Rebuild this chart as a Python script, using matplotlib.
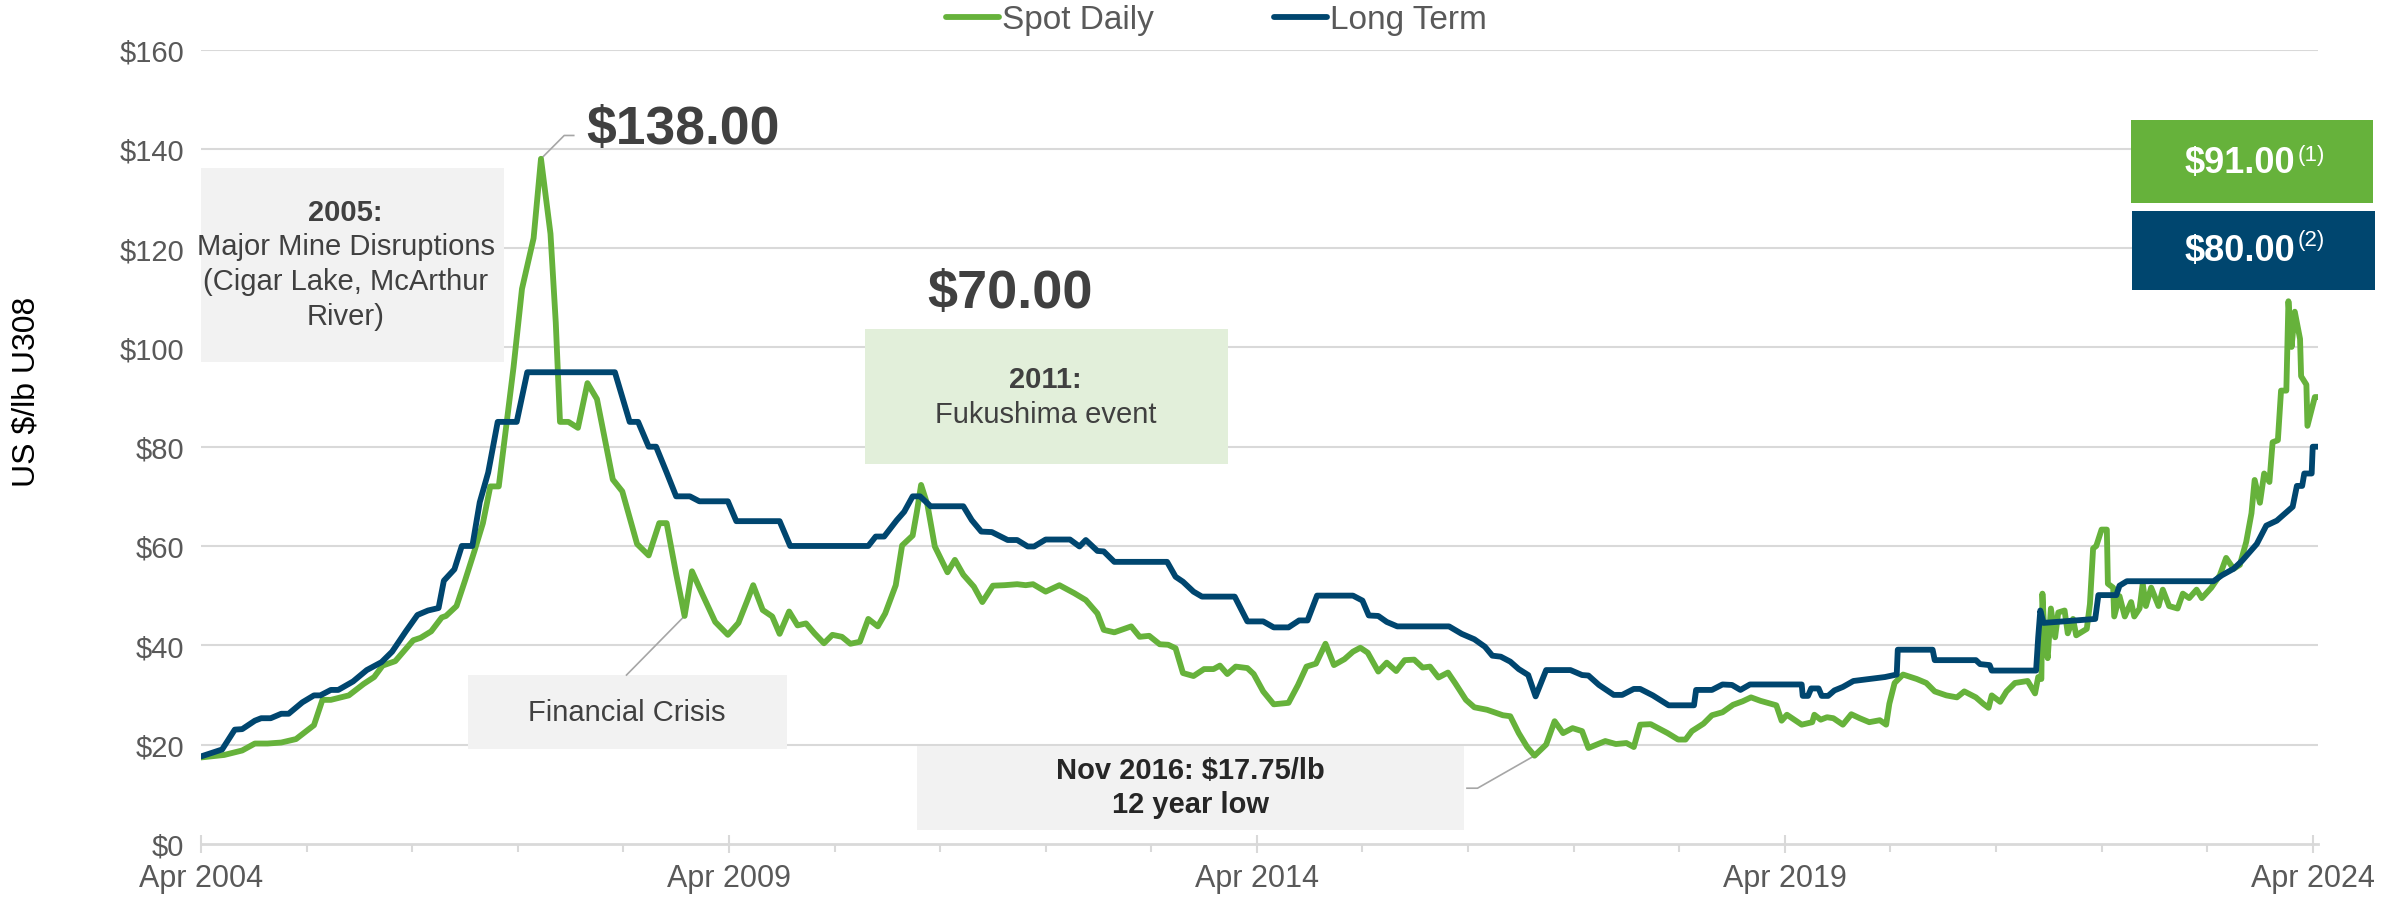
import numpy as np
import matplotlib.pyplot as plt
from matplotlib.patches import Rectangle
from matplotlib.ticker import FixedLocator, FuncFormatter

plt.rcParams['font.family'] = ['Liberation Sans', 'DejaVu Sans']

# spot daily price (decimal year, US$/lb)
spot_year = [2004.25, 2004.47, 2004.64, 2004.76, 2004.88, 2005.01, 2005.15, 2005.32, 2005.40, 2005.48,
             2005.65, 2005.79, 2005.89, 2005.97, 2006.09, 2006.26, 2006.33, 2006.43, 2006.53, 2006.57,
             2006.67, 2006.75, 2006.84, 2006.92, 2006.99, 2007.07, 2007.14, 2007.21, 2007.29, 2007.40,
             2007.47, 2007.56, 2007.61, 2007.65, 2007.73, 2007.82, 2007.91, 2008.00, 2008.15, 2008.24,
             2008.38, 2008.49, 2008.59, 2008.66, 2008.75, 2008.83, 2008.90, 2009.00, 2009.12, 2009.24,
             2009.34, 2009.42, 2009.48, 2009.57, 2009.66, 2009.73, 2009.82, 2009.90, 2009.98, 2010.06,
             2010.15, 2010.23, 2010.32, 2010.40, 2010.49, 2010.57, 2010.66, 2010.73, 2010.83, 2010.89,
             2010.99, 2011.03, 2011.07, 2011.13, 2011.20, 2011.32, 2011.39, 2011.47, 2011.57, 2011.65,
             2011.75, 2011.86, 2011.98, 2012.06, 2012.13, 2012.25, 2012.38, 2012.52, 2012.63, 2012.74,
             2012.80, 2012.90, 2013.06, 2013.14, 2013.23, 2013.33, 2013.41, 2013.48, 2013.55, 2013.65,
             2013.75, 2013.84, 2013.90, 2013.97, 2014.05, 2014.16, 2014.22, 2014.31, 2014.41, 2014.55,
             2014.64, 2014.72, 2014.81, 2014.90, 2014.98, 2015.08, 2015.16, 2015.23, 2015.30, 2015.40,
             2015.48, 2015.57, 2015.65, 2015.74, 2015.82, 2015.89, 2015.97, 2016.06, 2016.13, 2016.23,
             2016.31, 2016.43, 2016.58, 2016.65, 2016.73, 2016.81, 2016.88, 2016.99, 2017.07, 2017.15,
             2017.24, 2017.33, 2017.39, 2017.55, 2017.65, 2017.75, 2017.82, 2017.88, 2017.98, 2018.14,
             2018.24, 2018.31, 2018.37, 2018.48, 2018.56, 2018.66, 2018.76, 2018.85, 2018.93, 2019.02,
             2019.17, 2019.22, 2019.27, 2019.41, 2019.51, 2019.53, 2019.59, 2019.65, 2019.71, 2019.80,
             2019.88, 2019.96, 2020.05, 2020.15, 2020.21, 2020.24, 2020.29, 2020.37, 2020.50, 2020.59,
             2020.67, 2020.78, 2020.88, 2020.95, 2021.06, 2021.13, 2021.18, 2021.21, 2021.29, 2021.35,
             2021.43, 2021.55, 2021.62, 2021.65, 2021.68, 2021.69, 2021.71, 2021.74, 2021.77, 2021.81,
             2021.84, 2021.90, 2021.93, 2021.98, 2022.01, 2022.11, 2022.14, 2022.17, 2022.20, 2022.25,
             2022.30, 2022.31, 2022.36, 2022.37, 2022.42, 2022.47, 2022.53, 2022.56, 2022.61, 2022.64,
             2022.67, 2022.72, 2022.79, 2022.83, 2022.89, 2022.97, 2023.02, 2023.08, 2023.15, 2023.20,
             2023.29, 2023.37, 2023.43, 2023.50, 2023.56, 2023.62, 2023.67, 2023.70, 2023.75, 2023.79,
             2023.84, 2023.87, 2023.92, 2023.95, 2024.00, 2024.02, 2024.05, 2024.08, 2024.13, 2024.14,
             2024.19, 2024.20, 2024.24, 2024.27, 2024.30]
spot_price = [17.4, 17.9, 18.8, 20.2, 20.2, 20.4, 21.1, 23.9, 29.0, 29.0,
              29.9, 32.2, 33.6, 35.9, 36.8, 41.0, 41.5, 42.8, 45.6, 45.9,
              47.9, 53.0, 59.0, 64.6, 72.0, 72.0, 84.0, 96.0, 111.8, 122.0,
              138.0, 122.9, 105.0, 85.0, 85.0, 83.8, 92.8, 89.6, 73.4, 71.0,
              60.4, 58.1, 64.6, 64.6, 54.4, 45.9, 54.9, 50.2, 44.7, 42.1,
              44.5, 48.8, 52.1, 47.1, 45.8, 42.3, 46.8, 44.0, 44.4, 42.4,
              40.4, 42.1, 41.7, 40.3, 40.7, 45.3, 43.8, 46.4, 52.1, 60.1,
              62.1, 66.9, 72.3, 68.3, 59.9, 54.7, 57.2, 54.2, 51.8, 48.7,
              52.0, 52.1, 52.3, 52.1, 52.3, 50.8, 52.1, 50.5, 49.1, 46.4,
              43.1, 42.6, 43.8, 41.7, 41.9, 40.2, 40.1, 39.4, 34.4, 33.8,
              35.2, 35.2, 35.9, 34.2, 35.7, 35.4, 34.2, 30.7, 28.1, 28.4,
              32.0, 35.7, 36.3, 40.3, 36.0, 37.2, 38.7, 39.5, 38.5, 34.7,
              36.5, 34.8, 37.0, 37.1, 35.5, 35.7, 33.5, 34.5, 32.3, 29.0,
              27.5, 27.0, 25.9, 25.7, 22.3, 19.5, 17.75, 20.0, 24.7, 22.3,
              23.3, 22.7, 19.3, 20.7, 20.1, 20.3, 19.5, 24.0, 24.1, 22.3,
              21.0, 21.0, 22.7, 24.2, 25.9, 26.5, 28.0, 28.7, 29.5, 28.8,
              27.9, 24.8, 26.0, 24.0, 24.5, 26.0, 25.0, 25.5, 25.3, 24.0,
              26.1, 25.3, 24.5, 24.9, 24.0, 28.2, 32.4, 34.1, 33.2, 32.4,
              30.7, 29.9, 29.5, 30.7, 29.5, 28.2, 27.4, 29.9, 28.6, 30.7,
              32.4, 32.8, 30.3, 33.6, 33.2, 50.4, 41.6, 37.4, 47.4, 41.6,
              46.6, 47.0, 42.4, 45.3, 42.0, 43.3, 48.3, 59.5, 60.0, 63.3,
              63.3, 52.4, 51.6, 45.8, 49.9, 45.8, 48.7, 45.8, 47.4, 52.4,
              47.9, 51.6, 47.9, 51.2, 47.9, 47.4, 50.4, 49.5, 51.2, 49.5,
              51.6, 54.1, 57.6, 55.4, 56.2, 60.8, 66.6, 73.3, 68.7, 74.6,
              72.9, 80.9, 81.3, 91.3, 91.3, 109.3, 100.1, 107.2, 101.7, 94.2,
              92.5, 84.2, 87.5, 90.0, 90.0]

# long term price (decimal year, US$/lb)
lt_year = [2004.25, 2004.45, 2004.57, 2004.64, 2004.76, 2004.82, 2004.91, 2005.01, 2005.08, 2005.21,
           2005.32, 2005.38, 2005.48, 2005.55, 2005.69, 2005.82, 2005.96, 2006.06, 2006.19, 2006.30,
           2006.40, 2006.50, 2006.55, 2006.65, 2006.72, 2006.82, 2006.89, 2006.97, 2007.06, 2007.24,
           2007.34, 2008.17, 2008.31, 2008.39, 2008.49, 2008.56, 2008.66, 2008.75, 2008.88, 2008.97,
           2009.24, 2009.32, 2009.73, 2009.83, 2010.57, 2010.64, 2010.72, 2010.84, 2010.91, 2010.99,
           2011.06, 2011.16, 2011.47, 2011.55, 2011.64, 2011.74, 2011.89, 2011.98, 2012.08, 2012.14,
           2012.25, 2012.48, 2012.57, 2012.63, 2012.74, 2012.80, 2012.90, 2013.40, 2013.48, 2013.55,
           2013.65, 2013.73, 2014.04, 2014.16, 2014.31, 2014.41, 2014.55, 2014.65, 2014.73, 2014.82,
           2015.16, 2015.25, 2015.31, 2015.40, 2015.48, 2015.58, 2016.07, 2016.19, 2016.31, 2016.41,
           2016.48, 2016.56, 2016.65, 2016.73, 2016.82, 2016.89, 2016.99, 2017.22, 2017.33, 2017.39,
           2017.49, 2017.63, 2017.71, 2017.82, 2017.88, 2018.00, 2018.15, 2018.39, 2018.41, 2018.56,
           2018.66, 2018.75, 2018.83, 2018.92, 2019.41, 2019.42, 2019.47, 2019.50, 2019.57, 2019.60,
           2019.66, 2019.72, 2019.80, 2019.90, 2020.20, 2020.31, 2020.32, 2020.65, 2020.67, 2021.06,
           2021.10, 2021.19, 2021.21, 2021.63, 2021.65, 2021.67, 2021.70, 2022.19, 2022.22, 2022.39,
           2022.42, 2022.49, 2023.31, 2023.39, 2023.50, 2023.58, 2023.65, 2023.72, 2023.81, 2023.91,
           2023.99, 2024.06, 2024.10, 2024.15, 2024.17, 2024.24, 2024.25, 2024.30]
lt_price = [17.6, 19.0, 23.0, 23.1, 24.8, 25.3, 25.3, 26.2, 26.2, 28.5,
            29.9, 29.9, 31.0, 31.0, 32.7, 35.0, 36.6, 38.7, 42.8, 46.1,
            47.0, 47.5, 53.0, 55.3, 60.0, 60.0, 68.8, 74.8, 85.0, 85.0,
            95.0, 95.0, 85.0, 85.0, 80.0, 80.0, 74.8, 70.0, 70.0, 69.0,
            69.0, 65.0, 65.0, 60.0, 60.0, 61.9, 61.9, 65.2, 66.9, 70.0,
            70.0, 68.0, 68.0, 65.2, 62.9, 62.8, 61.2, 61.2, 59.9, 59.9,
            61.3, 61.3, 59.9, 61.2, 59.0, 58.9, 56.8, 56.8, 53.8, 52.8,
            50.8, 49.8, 49.8, 44.8, 44.8, 43.6, 43.6, 45.0, 45.0, 50.0,
            50.0, 49.0, 46.0, 45.9, 44.7, 43.8, 43.8, 42.3, 41.2, 39.7,
            37.9, 37.7, 36.7, 35.2, 34.0, 29.7, 35.0, 35.0, 34.0, 33.9,
            32.0, 30.0, 30.0, 31.2, 31.2, 29.9, 27.9, 27.9, 31.0, 31.0,
            32.1, 32.0, 31.0, 32.1, 32.1, 29.8, 29.8, 31.3, 31.3, 29.8,
            29.8, 30.9, 31.6, 32.8, 33.6, 34.1, 39.1, 39.1, 37.0, 37.0,
            36.2, 36.0, 34.9, 34.9, 41.6, 47.0, 44.5, 45.3, 50.1, 50.1,
            52.0, 52.9, 52.9, 54.1, 55.4, 57.0, 58.7, 60.4, 64.1, 65.1,
            66.6, 67.9, 72.1, 72.1, 74.6, 74.6, 80.0, 80.0]

tick_years = [2004, 2009, 2014, 2019, 2024]
y_ticks = [0, 20, 40, 60, 80, 100, 120, 140, 160]

green = '#66B23B'
blue = '#00466F'
dark = '#404040'
grey_txt = '#595959'
grid_c = '#D9D9D9'

fig = plt.figure(figsize=(24.04, 9.03), dpi=100)
ax = fig.add_axes([201/2404, 1-844.8/903, (2318-201)/2404, (844.8-50.6)/903])

ax.plot(spot_year, spot_price, color=green, lw=4.2, solid_capstyle='round', solid_joinstyle='round',
        label='Spot Daily', zorder=3)
ax.plot(lt_year, lt_price, color=blue, lw=4.2, solid_capstyle='round', solid_joinstyle='round',
        label='Long Term', zorder=4)

ax.set_xlim(2004.25, 2024.30)
ax.set_ylim(0, 160)
ax.set_yticks(y_ticks)
ax.yaxis.set_major_formatter(FuncFormatter(lambda v, p: '$%d' % v))
for v in y_ticks[1:]:
    ax.axhline(v, color=grid_c, lw=1.5, zorder=1)
ax.tick_params(axis='y', length=0, pad=12, labelsize=21, labelcolor=grey_txt)

ax.xaxis.set_major_locator(FixedLocator([y + 0.25 for y in tick_years]))
ax.xaxis.set_minor_locator(FixedLocator([y + 0.25 for y in range(2004, 2025)]))
ax.set_xticklabels(['Apr %d' % y for y in tick_years])
ax.tick_params(axis='x', which='major', direction='inout', length=13, width=1.5, color=grid_c,
               labelsize=22, labelcolor=grey_txt, pad=7)
ax.tick_params(axis='x', which='minor', direction='out', length=6, width=1.5, color=grid_c)
for s in ['top', 'right', 'left']:
    ax.spines[s].set_visible(False)
ax.spines['bottom'].set_color(grid_c)
ax.spines['bottom'].set_linewidth(2)

fig.text(27/2404, 1-392/903, 'US $/lb U308', rotation=90, fontsize=23, color='black',
         ha='center', va='center')

fig.legend(loc='center', bbox_to_anchor=(0.506, 1-21/903), ncol=2, frameon=False, fontsize=24,
           handlelength=1.6, handletextpad=0.08, columnspacing=3.6, labelcolor=grey_txt)

# annotation boxes
ax.add_patch(Rectangle((2004.14, 97.0), 2.98, 39.1, facecolor='#F2F2F2', edgecolor='none', zorder=2))
mine_lines = [('2005:', 'bold', 127.2), ('Major Mine Disruptions', 'normal', 120.4),
              ('(Cigar Lake, McArthur', 'normal', 113.3), ('River)', 'normal', 106.3)]
for txt, wt, yv in mine_lines:
    ax.text(2005.62, yv, txt, ha='center', va='center', fontsize=21, fontweight=wt, color=dark, zorder=5)

ax.add_patch(Rectangle((2010.54, 76.5), 3.44, 27.2, facecolor='#E2EFDA', edgecolor='none', zorder=2))
ax.text(2012.25, 93.6, '2011:', ha='center', va='center', fontsize=21, fontweight='bold', color=dark, zorder=5)
ax.text(2012.25, 86.5, 'Fukushima event', ha='center', va='center', fontsize=21, color=dark, zorder=5)

ax.add_patch(Rectangle((2006.78, 19.1), 3.02, 14.9, facecolor='#F2F2F2', edgecolor='none', zorder=2))
ax.text(2008.28, 26.5, 'Financial Crisis', ha='center', va='center', fontsize=21, color=dark, zorder=5)
ax.plot([2008.28, 2008.83], [34.0, 45.9], color='#A6A6A6', lw=1.2, zorder=2)

ax.add_patch(Rectangle((2011.03, 2.8), 5.18, 16.9, facecolor='#F2F2F2', edgecolor='none', zorder=2))
ax.text(2013.62, 14.9, 'Nov 2016: $17.75/lb', ha='center', va='center', fontsize=21,
        fontweight='bold', color='#262626', zorder=5)
ax.text(2013.62, 8.0, '12 year low', ha='center', va='center', fontsize=21,
        fontweight='bold', color='#262626', zorder=5)
ax.plot([2016.24, 2016.34, 2016.88], [11.2, 11.2, 17.75], color='#A6A6A6', lw=1.2, zorder=2)

ax.plot([2007.47, 2007.69, 2007.78], [138.0, 142.7, 142.7], color='#A6A6A6', lw=1.2, zorder=2)
ax.text(2007.90, 144.0, '$138.00', ha='left', va='center', fontsize=38.5, fontweight='bold', color=dark)
ax.text(2011.13, 110.9, '$70.00', ha='left', va='center', fontsize=39, fontweight='bold', color=dark)

# current price boxes
fig.patches.append(Rectangle((2131/2404, 1-204/903), 242/2404, 83/903, facecolor=green, edgecolor='none',
                             transform=fig.transFigure, figure=fig))
fig.patches.append(Rectangle((2132/2404, 1-291/903), 243/2404, 79/903, facecolor=blue, edgecolor='none',
                             transform=fig.transFigure, figure=fig))
fig.text(2295/2404, 1-163/903, '$91.00', ha='right', va='center', fontsize=26, fontweight='bold', color='white')
fig.text(2298/2404, 1-156/903, '(1)', ha='left', va='center', fontsize=16, color='white')
fig.text(2295/2404, 1-252/903, '$80.00', ha='right', va='center', fontsize=26, fontweight='bold', color='white')
fig.text(2298/2404, 1-241/903, '(2)', ha='left', va='center', fontsize=16, color='white')

plt.savefig('out.png', dpi=100)
plt.close()
